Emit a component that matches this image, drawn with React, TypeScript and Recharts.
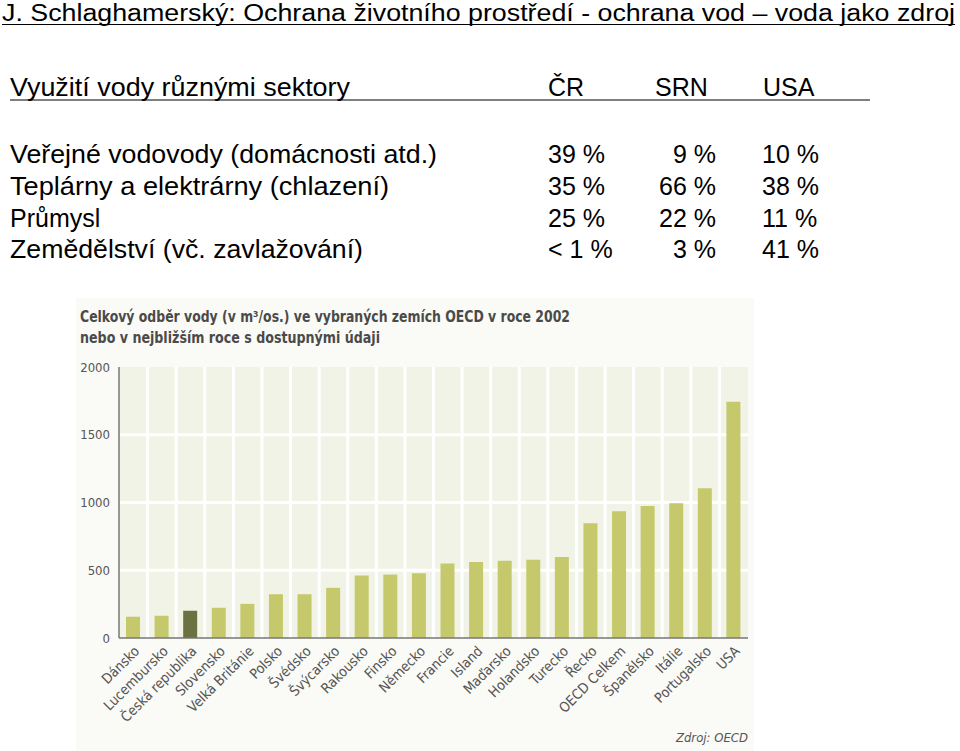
import { BarChart, Bar, XAxis, YAxis, CartesianGrid, Cell } from 'recharts';

const countries = [
  'Dánsko', 'Lucembursko', 'Česká republika', 'Slovensko', 'Velká Británie', 'Polsko',
  'Švédsko', 'Švýcarsko', 'Rakousko', 'Finsko', 'Německo', 'Francie', 'Island',
  'Maďarsko', 'Holandsko', 'Turecko', 'Řecko', 'OECD Celkem', 'Španělsko', 'Itálie',
  'Portugalsko', 'USA',
];
const withdrawal = [
  157, 164, 201, 223, 252, 323, 323, 370, 461, 468, 478, 549, 561, 571, 578, 598,
  847, 936, 975, 994, 1105, 1744,
];
const highlighted = 'Česká republika';
const yTicks = [0, 500, 1000, 1500, 2000];

const sectors = [
  'Veřejné vodovody (domácnosti atd.)',
  'Teplárny a elektrárny (chlazení)',
  'Průmysl',
  'Zemědělství (vč. zavlažování)',
];
const shareCR = ['39 %', '35 %', '25 %', '< 1 %'];
const shareSRN = ['9 %', '66 %', '22 %', '3 %'];
const shareUSA = ['10 %', '38 %', '11 %', '41 %'];

const chartData = countries.map((name, i) => ({ name, value: withdrawal[i] }));

const LABEL_FONT = '"DejaVu Sans Condensed", "DejaVu Sans", sans-serif';

function CountryTick({ x, y, payload }: any) {
  const ax = x + 7;
  const ay = y + 6;
  return (
    <text
      x={ax}
      y={ay}
      transform={`rotate(-45, ${ax}, ${ay})`}
      textAnchor="end"
      fontSize={14}
      fill="#555"
      fontFamily={LABEL_FONT}
    >
      {payload.value}
    </text>
  );
}

function Header() {
  const rowY = [163, 195, 226.5, 258];
  // widths of the row labels as measured on the slide (short one left natural)
  const rowWidth = [427, 379, 0, 353];
  return (
    <svg width={960} height={280} style={{ position: 'absolute', left: 0, top: 0 }}>
      <g fontFamily='"Liberation Sans", Arial, sans-serif' fill="#000">
        <text x={2} y={21} fontSize={23} textLength={953} lengthAdjust="spacingAndGlyphs">
          J. Schlaghamerský: Ochrana životního prostředí - ochrana vod – voda jako zdroj
        </text>
        <line x1={2} x2={955} y1={24.5} y2={24.5} stroke="#000" strokeWidth={1.2} />

        <text x={10} y={96} fontSize={25} textLength={340} lengthAdjust="spacingAndGlyphs">
          Využití vody různými sektory
        </text>
        <text x={548} y={96} fontSize={25}>ČR</text>
        <text x={655} y={96} fontSize={25}>SRN</text>
        <text x={763} y={96} fontSize={25}>USA</text>
        <line x1={10} x2={870} y1={100} y2={100} stroke="#000" strokeWidth={1.2} />

        {sectors.map((s, i) => (
          <g key={s}>
            {rowWidth[i] ? (
              <text x={10} y={rowY[i]} fontSize={25} textLength={rowWidth[i]} lengthAdjust="spacingAndGlyphs">
                {s}
              </text>
            ) : (
              <text x={10} y={rowY[i]} fontSize={25}>{s}</text>
            )}
            <text x={548} y={rowY[i]} fontSize={25}>{shareCR[i]}</text>
            <text x={716} y={rowY[i]} fontSize={25} textAnchor="end">{shareSRN[i]}</text>
            <text x={762} y={rowY[i]} fontSize={25}>{shareUSA[i]}</text>
          </g>
        ))}
      </g>
    </svg>
  );
}

export default function App() {
  return (
    <div style={{ position: 'absolute', left: 0, top: 0, width: 960, height: 751, background: '#fff', overflow: 'hidden' }}>
      <Header />

      {/* panel of the scanned chart */}
      <div style={{ position: 'absolute', left: 76, top: 298, width: 678, height: 453, background: '#fafaf6' }} />

      <svg width={960} height={751} style={{ position: 'absolute', left: 0, top: 0 }}>
        <g fontFamily={LABEL_FONT} fontWeight="bold" fill="#4a4a4a" fontSize={15}>
          <text x={80} y={322} textLength={490} lengthAdjust="spacingAndGlyphs">
            Celkový odběr vody (v m³/os.) ve vybraných zemích OECD v roce 2002
          </text>
          <text x={80} y={343} textLength={300} lengthAdjust="spacingAndGlyphs">
            nebo v nejbližším roce s dostupnými údaji
          </text>
        </g>
        <text x={748} y={742} textAnchor="end" fontSize={13} fontStyle="italic" fill="#555" fontFamily={LABEL_FONT}>
          Zdroj: OECD
        </text>
      </svg>

      <div style={{ position: 'absolute', left: 60, top: 290 }}>
        <BarChart
          width={700}
          height={460}
          data={chartData}
          margin={{ top: 77, right: 12, bottom: 0, left: 0 }}
          barCategoryGap={0}
        >
          <CartesianGrid
            fill="#f0f3e6"
            stroke="#ffffff"
            strokeWidth={3}
            horizontalValues={[500, 1000, 1500]}
            verticalCoordinatesGenerator={({ offset }: any) =>
              countries.slice(1).map((_, i) => offset.left + ((i + 1) * offset.width) / countries.length)
            }
          />
          <XAxis
            dataKey="name"
            interval={0}
            tick={<CountryTick />}
            tickLine={false}
            axisLine={{ stroke: '#777', strokeWidth: 1.5 }}
            height={112}
          />
          <YAxis
            domain={[0, 2000]}
            ticks={yTicks}
            width={59}
            tickSize={0}
            tickMargin={9}
            tickLine={false}
            axisLine={{ stroke: '#777', strokeWidth: 1.5 }}
            tick={{ fontSize: 13, fill: '#555', fontFamily: LABEL_FONT }}
          />
          <Bar dataKey="value" barSize={14} isAnimationActive={false}>
            {chartData.map((d) => (
              <Cell key={d.name} fill={d.name === highlighted ? '#6b7140' : '#c5c96c'} />
            ))}
          </Bar>
        </BarChart>
      </div>
    </div>
  );
}
